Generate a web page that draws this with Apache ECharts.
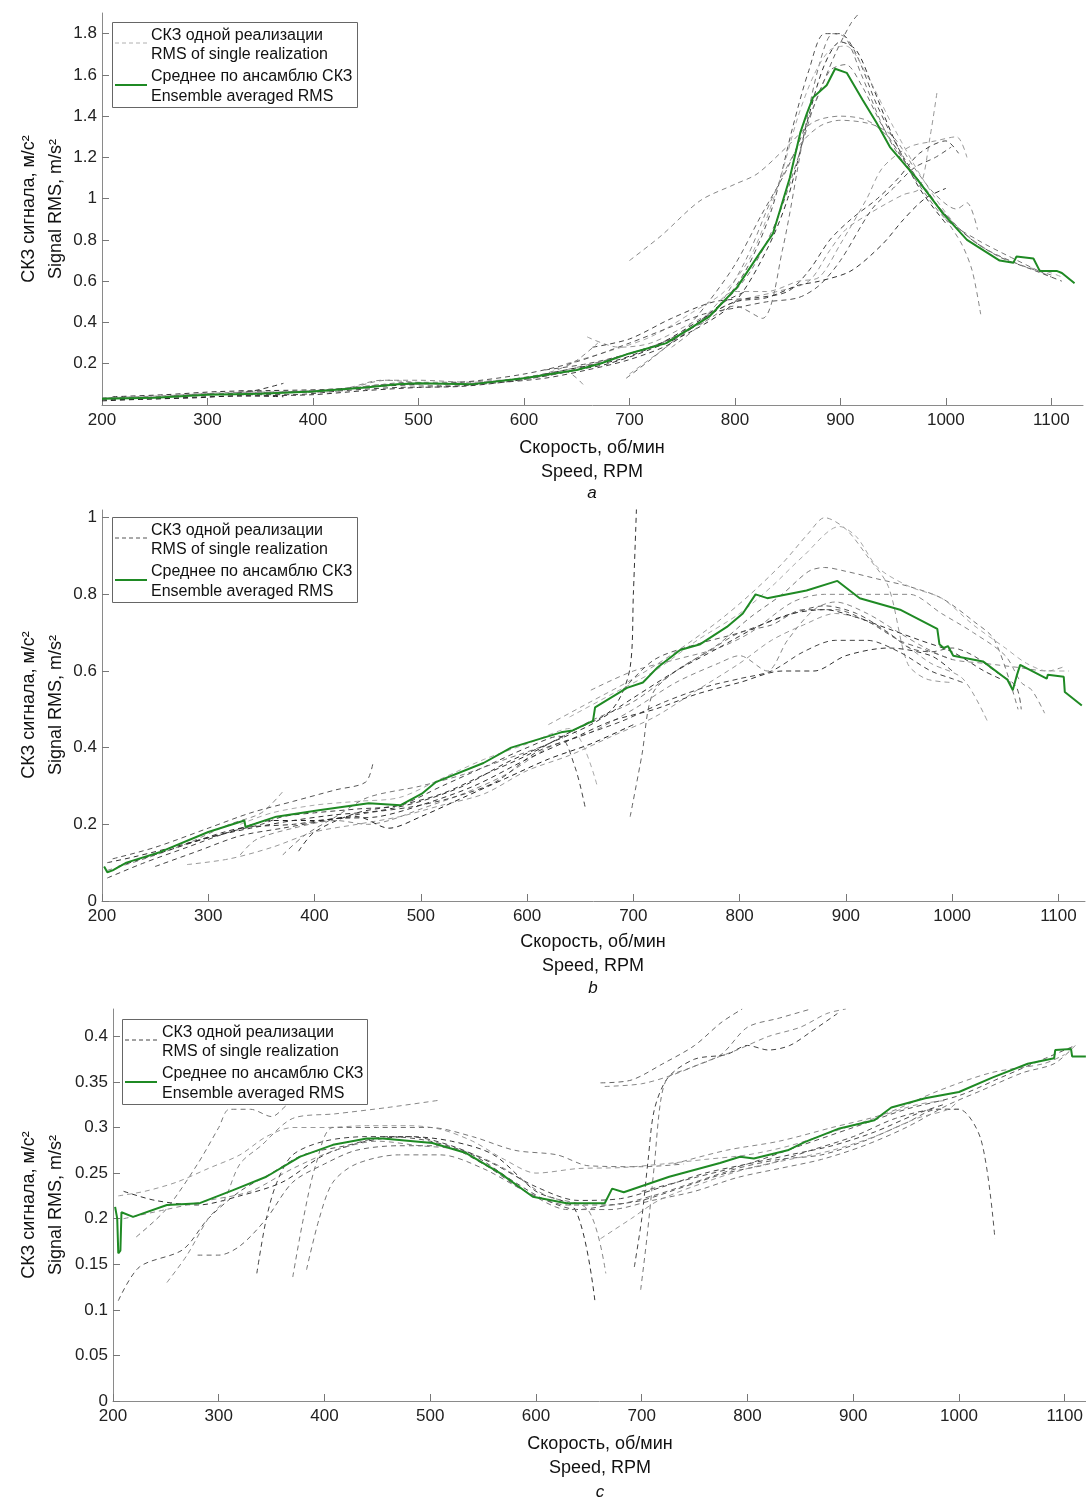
<!DOCTYPE html>
<html>
<head>
<meta charset="utf-8">
<script src="https://cdn.jsdelivr.net/npm/echarts@6/dist/echarts.min.js"></script>
<style>html,body{margin:0;padding:0;background:#fff}#c{width:1086px;height:1502px}</style>
</head>
<body>
<div id="c"></div>
<script>
// ---------- tick labels ----------
const xTicks = [200,300,400,500,600,700,800,900,1000,1100];
const aYTicks = [0.2,0.4,0.6,0.8,1,1.2,1.4,1.6,1.8];
const bYTicks = [0,0.2,0.4,0.6,0.8,1];
const cYTicks = [0,0.05,0.1,0.15,0.2,0.25,0.3,0.35,0.4];

const legendSingle = ['СКЗ одной реализации','RMS of single realization'];
const legendMean = ['Среднее по ансамблю СКЗ','Ensemble averaged RMS'];

// ---------- panel a (speed RPM, RMS m/s^2) ----------
const aMean = [[200,0.03],[250,0.035],[300,0.05],[350,0.055],[400,0.065],[450,0.085],[480,0.1],[500,0.105],[550,0.1],[600,0.13],[650,0.17],[672,0.2],[700,0.25],[735,0.3],[776,0.43],[802,0.57],[824,0.74],[836,0.83],[852,1.1],[862,1.32],[868,1.41],[874,1.49],[887,1.55],[895,1.63],[906,1.61],[921,1.48],[934,1.37],[947,1.25],[972,1.10],[997,0.93],[1020,0.80],[1051,0.70],[1064,0.69],[1067,0.72],[1083,0.71],[1089,0.65],[1105,0.65],[1110,0.64],[1122,0.59]];
const aR1 = [[200,0.03],[240,0.035],[280,0.045],[320,0.055],[345,0.07],[372,0.105]];
const aR2 = [[200,0.025],[250,0.03],[300,0.04],[350,0.045],[400,0.05],[450,0.07],[500,0.085],[540,0.09],[580,0.11],[620,0.14],[650,0.17],[680,0.2],[720,0.27],[760,0.36],[800,0.5],[830,0.75],[850,1.0],[870,1.4],[885,1.65],[900,1.76],[915,1.72],[930,1.55],[950,1.3],[975,1.05],[1000,0.88]];
const aR3 = [[205,0.035],[260,0.045],[320,0.06],[380,0.065],[430,0.08],[465,0.12],[500,0.12],[550,0.11],[600,0.13],[640,0.16],[656,0.1]];
const aR4 = [[330,0.07],[370,0.06],[420,0.07],[470,0.1],[520,0.095],[580,0.115],[630,0.15],[680,0.22],[730,0.3],[770,0.4],[800,0.48],[826,0.42],[845,0.75],[865,1.3],[880,1.65],[893,1.8],[905,1.78],[920,1.6],[945,1.3],[970,1.1],[1000,0.9],[1030,0.8],[1060,0.72],[1100,0.62]];
const aR5 = [[620,0.17],[660,0.2],[700,0.25],[740,0.32],[780,0.45],[810,0.65],[835,0.95],[855,1.35],[870,1.62],[885,1.8],[900,1.8],[915,1.7],[935,1.45],[960,1.2],[990,0.98],[1020,0.82],[1050,0.72],[1080,0.66],[1110,0.6]];
const aR6 = [[700,0.7],[730,0.82],[767,0.99],[800,1.07],[821,1.12],[849,1.25],[874,1.37],[900,1.40],[925,1.38],[945,1.3],[965,1.15],[985,1.02],[1000,0.9],[1015,0.78],[1025,0.65],[1033,0.44]];
const aR7 = [[697,0.13],[720,0.22],[750,0.35],[775,0.5],[800,0.68],[825,0.92],[850,1.15],[875,1.45],[895,1.7],[910,1.85],[918,1.9]];
const aR8 = [[660,0.33],[690,0.28],[720,0.3],[760,0.4],[800,0.5],[840,0.55],[870,0.6],[890,0.75],[905,0.85],[925,0.92],[945,0.98],[960,1.02],[975,1.05],[985,1.3],[992,1.53]];
const aR9 = [[665,0.28],[700,0.32],[740,0.42],[780,0.5],[820,0.52],[850,0.55],[870,0.65],[890,0.8],[910,0.9],[935,1.0],[955,1.1],[975,1.22],[1000,1.28],[1012,1.22]];
const aR10 = [[700,0.15],[740,0.3],[770,0.42],[800,0.55],[830,0.55],[860,0.6],[880,0.62],[900,0.78],[925,1.0],[940,1.15],[965,1.25],[990,1.28],[1010,1.3],[1020,1.2]];
const aR11 = [[640,0.2],[680,0.26],[720,0.33],[760,0.45],[790,0.55],[815,0.72],[840,1.05],[860,1.4],[875,1.6],[890,1.72],[905,1.74],[925,1.6],[950,1.35],[980,1.08],[1010,0.87],[1040,0.75],[1070,0.68],[1100,0.64],[1110,0.62]];
const aR12 = [[740,0.28],[780,0.45],[810,0.7],[835,1.0],[860,1.25],[880,1.35],[900,1.38],[930,1.36],[950,1.3],[970,1.15],[990,1.02],[1010,0.95],[1020,0.98],[1030,0.85]];
const aR13 = [[200,0.02],[240,0.028],[290,0.035],[330,0.045],[372,0.04]];
const aR14 = [[210,0.04],[260,0.05],[310,0.065],[360,0.07],[410,0.075],[460,0.09],[500,0.1]];
const aR15 = [[330,0.05],[380,0.05],[430,0.07],[480,0.085],[530,0.09],[580,0.11],[620,0.13],[660,0.17],[700,0.22],[740,0.3],[770,0.42],[790,0.5],[810,0.55]];
const aR16 = [[370,0.06],[420,0.065],[470,0.12],[500,0.11],[560,0.115],[610,0.14],[645,0.2],[670,0.3]];
const aR17 = [[480,0.1],[540,0.11],[600,0.15],[650,0.21],[700,0.3],[740,0.38],[770,0.44],[800,0.47],[830,0.5],[860,0.52],[880,0.58],[900,0.7],[930,0.95],[950,1.05],[970,1.15],[990,1.2],[1005,1.25]];
const aR18 = [[200,0.035],[250,0.04],[300,0.055],[350,0.06],[400,0.07],[450,0.09],[490,0.11],[530,0.1],[580,0.12],[630,0.16],[680,0.22],[720,0.28],[760,0.38],[790,0.5],[815,0.65],[840,0.9],[860,1.2],[875,1.45],[890,1.62],[905,1.65],[920,1.55],[940,1.35],[965,1.15],[995,0.95],[1030,0.78],[1070,0.68],[1100,0.63]];
const aR19 = [[620,0.15],[650,0.18],[690,0.22],[730,0.3],[770,0.42],[800,0.5],[830,0.52],[860,0.58],[880,0.6],[910,0.65],[940,0.78],[960,0.9],[980,1.0],[1000,1.05]];
const aSingles = [aR1,aR2,aR3,aR4,aR5,aR6,aR7,aR8,aR9,aR10,aR11,aR12,aR13,aR14,aR15,aR16,aR17,aR18,aR19];
const aColors = ['#333','#333','#888','#777','#555','#888','#666','#999','#444','#999','#aaa','#888','#222','#333','#444','#888','#555','#777','#333'];

// ---------- panel b ----------
const bMean = [[202,0.09],[205,0.075],[210,0.08],[223,0.10],[255,0.128],[300,0.18],[334,0.21],[335,0.193],[364,0.22],[404,0.237],[451,0.255],[481,0.25],[501,0.28],[514,0.31],[559,0.36],[585,0.40],[632,0.44],[643,0.445],[662,0.47],[664,0.505],[694,0.556],[709,0.57],[723,0.61],[744,0.655],[763,0.67],[788,0.715],[803,0.75],[815,0.80],[826,0.79],[863,0.81],[892,0.835],[913,0.79],[951,0.76],[986,0.71],[988,0.67],[992,0.66],[996,0.665],[1001,0.64],[1029,0.625],[1052,0.577],[1057,0.55],[1059,0.57],[1061,0.59],[1064,0.616],[1089,0.58],[1090,0.59],[1105,0.585],[1106,0.545],[1122,0.51]];
const bR1 = [[205,0.06],[240,0.1],[280,0.14],[320,0.18],[350,0.2],[370,0.22],[400,0.23],[440,0.24],[480,0.25],[520,0.3],[560,0.35],[600,0.4],[630,0.43],[645,0.35],[655,0.24]];
const bR2 = [[205,0.08],[240,0.11],[280,0.15],[320,0.2],[350,0.23],[370,0.285]];
const bR3 = [[210,0.11],[250,0.14],[300,0.19],[340,0.23],[380,0.26],[420,0.29],[448,0.31],[455,0.36]];
const bR4 = [[280,0.095],[320,0.11],[360,0.14],[400,0.18],[440,0.2],[480,0.22],[520,0.25],[560,0.28],[600,0.34],[640,0.38],[680,0.43],[720,0.48],[760,0.55],[800,0.62],[830,0.68],[860,0.72],[890,0.75],[920,0.73],[950,0.68],[980,0.62],[1010,0.58],[1033,0.47]];
const bR5 = [[330,0.12],[345,0.16],[380,0.19],[420,0.21],[450,0.2],[470,0.21],[500,0.24],[540,0.28],[580,0.33],[620,0.4],[660,0.44],[700,0.5],[740,0.57],[780,0.62],[800,0.64],[826,0.6],[845,0.68],[870,0.76],[890,0.78],[920,0.75],[950,0.7],[975,0.66],[1000,0.63],[1030,0.62],[1060,0.61],[1090,0.6],[1104,0.61]];
const bR6 = [[330,0.2],[360,0.23],[400,0.25],[440,0.26],[480,0.27],[520,0.32],[560,0.37],[600,0.41],[640,0.45],[666,0.3]];
const bR7 = [[370,0.12],[390,0.17],[420,0.22],[450,0.27],[500,0.3],[540,0.33],[580,0.37],[620,0.41],[660,0.47],[700,0.52],[740,0.6],[780,0.67],[810,0.74],[840,0.8],[865,0.86],[880,0.87],[900,0.86],[930,0.84],[960,0.82],[990,0.79],[1020,0.73],[1040,0.68],[1062,0.5]];
const bR8 = [[385,0.13],[400,0.18],[440,0.23],[480,0.25],[520,0.28],[560,0.33],[600,0.38],[640,0.44],[680,0.5],[697,0.61],[700,0.8],[703,1.03]];
const bR9 = [[697,0.22],[708,0.38],[718,0.54],[740,0.6],[770,0.65],[800,0.7],[830,0.72],[860,0.76],[890,0.76],[920,0.73],[950,0.68],[970,0.66],[990,0.64],[1000,0.63]];
const bR10 = [[620,0.46],[660,0.52],[700,0.58],[740,0.65],[780,0.73],[810,0.8],[840,0.88],[865,0.96],[880,1.0],[900,0.97],[920,0.9],[940,0.82],[958,0.62],[975,0.58],[1000,0.57]];
const bR11 = [[640,0.48],[680,0.54],[720,0.6],[760,0.68],[800,0.75],[830,0.82],[860,0.9],[894,0.977],[910,0.95],[930,0.87],[960,0.82],[990,0.79],[1020,0.72],[1050,0.66],[1070,0.62],[1090,0.6],[1110,0.6]];
const bR12 = [[660,0.55],[700,0.6],[740,0.63],[780,0.66],[810,0.7],[850,0.78],[880,0.8],[910,0.8],[940,0.8],[960,0.8],[990,0.75],[1020,0.7],[1050,0.64],[1065,0.57],[1075,0.55],[1087,0.49]];
const bR13 = [[690,0.55],[720,0.63],[760,0.67],[800,0.7],[840,0.74],[880,0.77],[910,0.75],[940,0.7],[960,0.66],[980,0.65],[1000,0.66],[1020,0.64],[1040,0.6],[1060,0.56],[1065,0.5]];
const bR14 = [[250,0.09],[290,0.13],[330,0.17],[370,0.19],[410,0.21],[450,0.23],[490,0.245],[530,0.27],[570,0.31],[610,0.39],[650,0.43],[690,0.47],[730,0.52],[770,0.56],[800,0.58],[830,0.6],[860,0.65],[890,0.68],[920,0.68],[950,0.65],[980,0.6],[1000,0.58],[1010,0.57]];
const bR15 = [[205,0.1],[230,0.115],[280,0.15],[330,0.19],[380,0.2],[420,0.215],[460,0.22],[500,0.25],[550,0.3],[600,0.37],[640,0.42],[680,0.47],[720,0.5],[760,0.54],[800,0.57],[840,0.6],[870,0.6],[900,0.64],[940,0.66],[980,0.64],[1000,0.6]];
const bR16 = [[280,0.15],[320,0.18],[360,0.21],[400,0.21],[440,0.22],[470,0.19],[500,0.22],[540,0.27],[580,0.32],[620,0.37],[660,0.41],[700,0.46]];
const bR17 = [[215,0.09],[260,0.13],[300,0.165],[340,0.19],[380,0.21],[420,0.225],[460,0.235],[500,0.26],[540,0.3],[580,0.36],[620,0.41],[660,0.46],[700,0.53],[740,0.6],[780,0.66],[820,0.72],[850,0.75],[880,0.76],[910,0.74],[940,0.71],[970,0.68],[1000,0.65],[1030,0.6],[1045,0.58]];
const bSingles = [bR1,bR2,bR3,bR4,bR5,bR6,bR7,bR8,bR9,bR10,bR11,bR12,bR13,bR14,bR15,bR16,bR17];
const bColors = ['#444','#888','#555','#999','#888','#aaa','#777','#333','#666','#999','#aaa','#888','#555','#444','#333','#222','#333'];

// ---------- panel c ----------
const cMean = [[202,0.213],[204,0.20],[205,0.162],[207,0.165],[208,0.207],[219,0.202],[251,0.215],[282,0.217],[313,0.231],[345,0.246],[377,0.268],[408,0.281],[440,0.288],[455,0.288],[502,0.283],[534,0.272],[566,0.25],[597,0.224],[629,0.217],[665,0.217],[672,0.233],[683,0.229],[726,0.246],[774,0.261],[793,0.268],[806,0.266],[838,0.275],[854,0.284],[887,0.299],[920,0.308],[936,0.322],[968,0.332],[1000,0.339],[1032,0.355],[1065,0.37],[1090,0.376],[1091,0.385],[1106,0.386],[1107,0.378],[1120,0.378]];
const cR1 = [[205,0.11],[225,0.147],[266,0.166],[290,0.2],[320,0.23],[350,0.25],[380,0.27],[420,0.28],[460,0.29],[500,0.285],[540,0.27],[580,0.24],[610,0.22],[640,0.21],[670,0.215],[700,0.22],[740,0.235],[780,0.25],[820,0.26],[860,0.275],[900,0.29],[940,0.31],[980,0.32],[1000,0.32],[1021,0.286],[1034,0.178]];
const cR2 = [[210,0.23],[240,0.22],[280,0.215],[320,0.225],[360,0.24],[400,0.27],[440,0.285],[480,0.29],[520,0.285],[560,0.27],[600,0.23],[637,0.21],[656,0.107]];
const cR3 = [[210,0.2],[250,0.21],[290,0.22],[330,0.23],[370,0.255],[410,0.275],[450,0.285],[490,0.28],[530,0.275],[570,0.255],[610,0.225],[649,0.21],[666,0.14]];
const cR4 = [[222,0.18],[250,0.21],[280,0.26],[300,0.3],[310,0.32],[330,0.32],[350,0.312],[365,0.325],[375,0.33]];
const cR5 = [[205,0.225],[230,0.23],[260,0.24],[290,0.255],[320,0.27],[345,0.29],[370,0.3],[400,0.3],[440,0.302],[480,0.302],[510,0.298],[540,0.285],[570,0.265],[600,0.25],[640,0.255],[680,0.256],[720,0.26],[760,0.265],[800,0.27],[840,0.28],[880,0.295],[920,0.31],[960,0.325],[990,0.33]];
const cR6 = [[251,0.13],[270,0.16],[290,0.2],[305,0.22],[320,0.26],[340,0.28],[370,0.31],[410,0.315],[460,0.322],[509,0.33]];
const cR7 = [[280,0.16],[300,0.16],[320,0.17],[345,0.2],[370,0.24],[400,0.26],[430,0.275],[470,0.28],[510,0.28],[550,0.26],[590,0.23],[630,0.215],[670,0.215],[710,0.225],[750,0.24],[790,0.255],[830,0.265],[870,0.27],[910,0.285],[950,0.305],[980,0.32],[1000,0.32]];
const cR8 = [[336,0.14],[345,0.2],[355,0.24],[370,0.27],[400,0.285],[440,0.29],[480,0.29],[520,0.28],[560,0.26],[600,0.235],[640,0.22],[680,0.222],[720,0.235],[760,0.25],[800,0.26],[840,0.27],[880,0.28],[920,0.295],[960,0.315],[985,0.325]];
const cR9 = [[370,0.136],[380,0.2],[392,0.26],[408,0.3],[450,0.3],[500,0.3],[540,0.29],[580,0.275],[620,0.27],[650,0.258],[700,0.257],[740,0.26]];
const cR10 = [[383,0.144],[395,0.2],[408,0.24],[430,0.26],[470,0.27],[510,0.27],[550,0.255],[590,0.23],[630,0.21],[670,0.21],[710,0.22],[750,0.23],[790,0.245],[830,0.255],[870,0.265],[910,0.28],[950,0.3],[990,0.325],[1020,0.34],[1060,0.36],[1090,0.37],[1110,0.39]];
const cR11 = [[661,0.349],[690,0.352],[720,0.37],[750,0.39],[775,0.415],[795,0.43]];
const cR12 = [[665,0.345],[700,0.348],[730,0.358],[760,0.372],[790,0.385],[820,0.4],[850,0.41],[875,0.425],[893,0.43]];
const cR13 = [[693,0.147],[700,0.2],[706,0.264],[712,0.32],[725,0.355],[750,0.375],[780,0.38],[800,0.39],[820,0.385],[840,0.39],[860,0.405],[885,0.425]];
const cR14 = [[699,0.122],[705,0.18],[712,0.26],[718,0.33],[725,0.355],[745,0.365],[775,0.38],[800,0.41],[830,0.42],[860,0.43]];
const cR15 = [[661,0.178],[690,0.2],[716,0.22],[760,0.24],[800,0.255],[840,0.265],[880,0.275],[920,0.29],[960,0.31],[990,0.32],[1000,0.33]];
const cR16 = [[700,0.23],[750,0.245],[800,0.26],[850,0.28],[900,0.3],[950,0.32],[1000,0.335],[1040,0.355],[1080,0.375],[1110,0.39]];
const cR17 = [[730,0.26],[780,0.275],[830,0.285],[880,0.3],[930,0.315],[980,0.34],[1030,0.36],[1080,0.37],[1100,0.38]];
const cSingles = [cR1,cR2,cR3,cR4,cR5,cR6,cR7,cR8,cR9,cR10,cR11,cR12,cR13,cR14,cR15,cR16,cR17];
const cColors = ['#555','#333','#888','#777','#999','#888','#666','#444','#777','#777','#666','#888','#444','#777','#999','#555','#888'];

// ---------- build ----------
const FONT = 'Liberation Sans, Arial, sans-serif';
const GREEN = '#1f8a24';
const panels = [
  {grid:{left:102, top:13, width:981, height:392}, xmax:1130, ymin:0, ymax:1.9, yTicks:aYTicks, singles:aSingles, colors:aColors, mean:aMean,
   legend:{left:112, top:22, tx:39}, legendGray:'#b0b0b0', ytitle:209, xt:[448,472,493], letter:'a', cx:592},
  {grid:{left:102, top:510, width:983, height:391}, xmax:1125, ymin:0, ymax:1.02, yTicks:bYTicks, singles:bSingles, colors:bColors, mean:bMean,
   legend:{left:112, top:517, tx:39}, legendGray:'#555', ytitle:705, xt:[942,967,988], letter:'b', cx:593},
  {grid:{left:113, top:1009, width:973, height:392}, xmax:1120, ymin:0, ymax:0.43, yTicks:cYTicks, singles:cSingles, colors:cColors, mean:cMean,
   legend:{left:122, top:1019, tx:40}, legendGray:'#444', ytitle:1205, xt:[1444,1468,1492], letter:'c', cx:600}
];

const grids=[], xAxes=[], yAxes=[], series=[], graphics=[];
const txt = (x,y,text,extra) => Object.assign({type:'text', x:x, y:y, z:100,
  style:Object.assign({text:text, fontSize:16, fontFamily:FONT, fill:'#111', align:'left', verticalAlign:'middle'}, extra||{})});
panels.forEach((p,i)=>{
  grids.push(Object.assign({containLabel:false}, p.grid));
  xAxes.push({type:'value', gridIndex:i, min:200, max:p.xmax,
    axisLine:{show:true, onZero:false, lineStyle:{color:'#8a8a8a', width:1}},
    axisTick:{show:true, inside:true, length:7, customValues:xTicks, lineStyle:{color:'#777'}},
    axisLabel:{show:true, customValues:xTicks, formatter:v=>String(v), fontSize:17, color:'#222', fontFamily:FONT, margin:7},
    splitLine:{show:false}});
  yAxes.push({type:'value', gridIndex:i, min:p.ymin, max:p.ymax,
    axisLine:{show:true, onZero:false, lineStyle:{color:'#8a8a8a', width:1}},
    axisTick:{show:true, inside:true, length:7, customValues:p.yTicks, lineStyle:{color:'#777'}},
    axisLabel:{show:true, customValues:p.yTicks, formatter:v=>String(v), fontSize:17, color:'#222', fontFamily:FONT, margin:5},
    splitLine:{show:false}});
  p.singles.forEach((d,k)=>{
    series.push({type:'line', name:'single'+i+'_'+k, xAxisIndex:i, yAxisIndex:i, data:d, symbol:'none', smooth:0.3,
      lineStyle:{type:[5,4], width:1, color:p.colors[k]}, silent:true, z:2});
  });
  series.push({type:'line', name:'mean'+i, xAxisIndex:i, yAxisIndex:i, data:p.mean, symbol:'none',
    lineStyle:{width:2, color:GREEN}, silent:true, z:5});

  // legend box (drawn as graphic)
  const L=p.legend.left, T=p.legend.top;
  graphics.push({type:'rect', z:99, shape:{x:L+0.5, y:T+0.5, width:245, height:85}, style:{fill:'#fff', stroke:'#666', lineWidth:1}});
  graphics.push({type:'line', z:100, shape:{x1:L+3, y1:T+21, x2:L+35, y2:T+21}, style:{stroke:p.legendGray, lineWidth:1, lineDash:[4,3]}});
  graphics.push({type:'line', z:100, shape:{x1:L+3, y1:T+63, x2:L+35, y2:T+63}, style:{stroke:GREEN, lineWidth:2}});
  graphics.push(txt(L+p.legend.tx, T+14, legendSingle[0]));
  graphics.push(txt(L+p.legend.tx, T+33, legendSingle[1]));
  graphics.push(txt(L+p.legend.tx, T+55, legendMean[0]));
  graphics.push(txt(L+p.legend.tx, T+75, legendMean[1]));

  graphics.push({type:'text', x:43, y:p.ytitle, rotation:Math.PI/2,
    style:{text:'СКЗ сигнала, м/с²\nSignal RMS, m/s²', fontSize:18, lineHeight:27, fontFamily:FONT, fill:'#111', align:'center', verticalAlign:'middle'}});
  graphics.push({type:'text', x:p.cx, y:(p.xt[0]+p.xt[1])/2,
    style:{text:'Скорость, об/мин\nSpeed, RPM', fontSize:18, lineHeight:24, fontFamily:FONT, fill:'#111', align:'center', verticalAlign:'middle'}});
  graphics.push({type:'text', x:p.cx, y:p.xt[2],
    style:{text:p.letter, fontSize:17, fontStyle:'italic', fontFamily:FONT, fill:'#111', align:'center', verticalAlign:'middle'}});
});

const chart = echarts.init(document.getElementById('c'), null, {renderer:'canvas'});
chart.setOption({
  animation:false, backgroundColor:'#fff',
  grid:grids, xAxis:xAxes, yAxis:yAxes, series:series, graphic:graphics
});
</script>
</body>
</html>
